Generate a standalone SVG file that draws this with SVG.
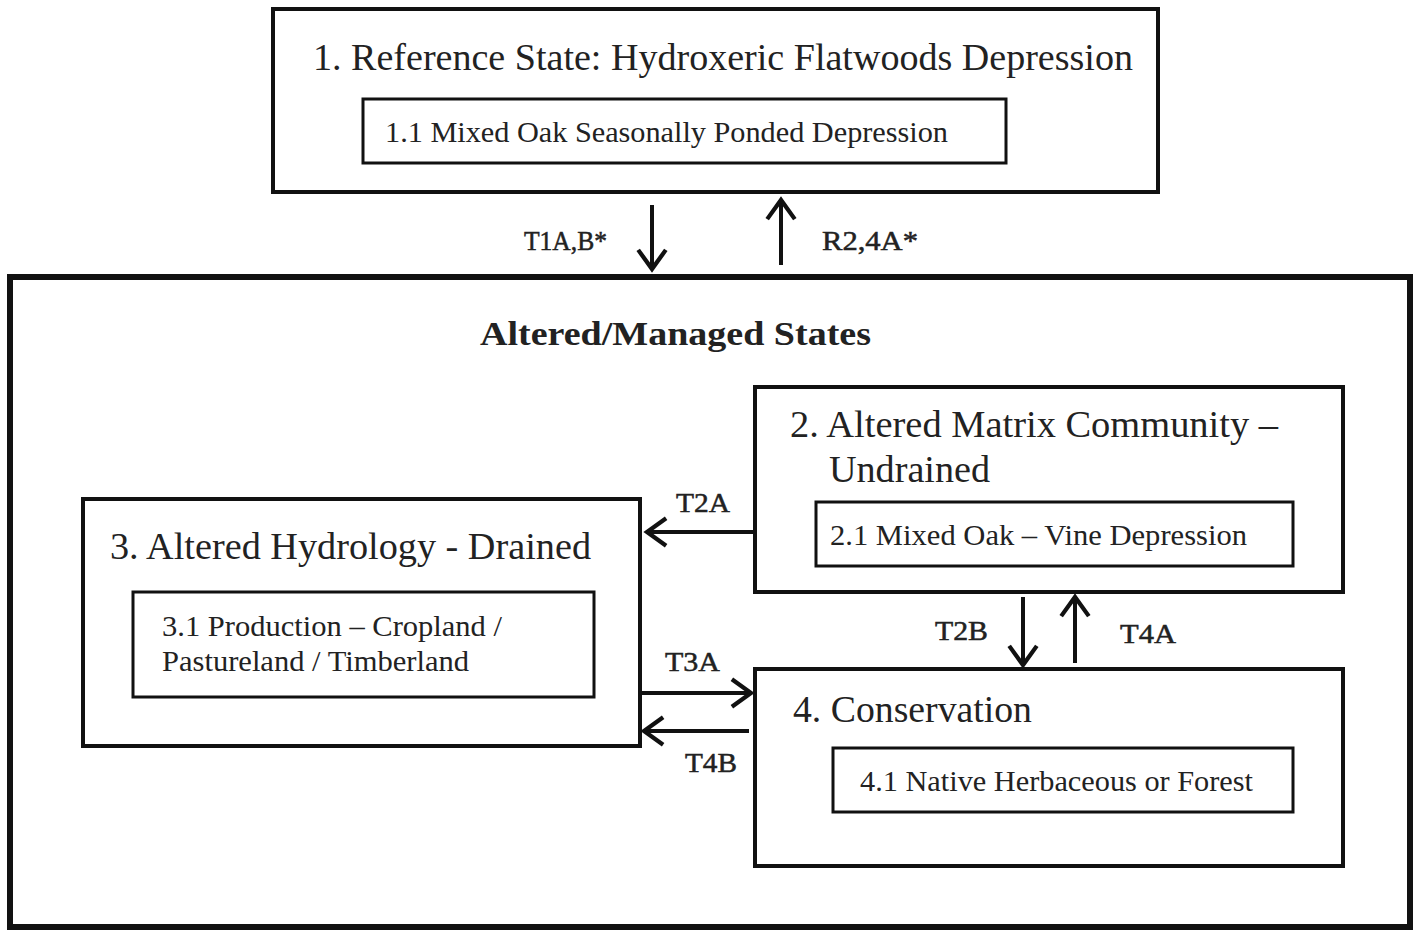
<svg xmlns="http://www.w3.org/2000/svg" width="1417" height="931" viewBox="0 0 1417 931">
<style>
.box{fill:none;stroke:#111;stroke-width:4}
.inner{fill:none;stroke:#111;stroke-width:3}
.outer{fill:none;stroke:#111;stroke-width:6}
text{font-family:"Liberation Serif","Times New Roman",serif;fill:#222}
.t1{font-size:37px}
.t2{font-size:30px}
.lbl{font-size:27px;stroke:#222;stroke-width:0.5}
.hdr{font-size:34px;font-weight:bold}
.conn{stroke:#111;stroke-width:4;fill:none}
</style>
<defs>
<marker id="ah" markerUnits="userSpaceOnUse" markerWidth="30" markerHeight="34" viewBox="-22 -16 26 32" refX="0" refY="0" orient="auto">
<path d="M-18,-13 L0,0 L-18,13" fill="none" stroke="#111" stroke-width="4"/>
</marker>
</defs>
<rect width="1417" height="931" fill="#fff"/>
<g id="n1">
<rect class="box" x="273" y="9" width="885" height="183"/>
<text class="t1" x="313" y="70" textLength="820" lengthAdjust="spacingAndGlyphs">1. Reference State: Hydroxeric Flatwoods Depression</text>
<rect class="inner" x="363" y="99" width="643" height="64"/>
<text class="t2" x="385" y="142" textLength="563" lengthAdjust="spacingAndGlyphs">1.1 Mixed Oak Seasonally Ponded Depression</text>
</g>
<g id="altered">
<rect class="outer" x="10" y="277" width="1400" height="650"/>
<text class="hdr" x="480" y="345" textLength="391" lengthAdjust="spacingAndGlyphs">Altered/Managed States</text>
</g>
<g id="n2">
<rect class="box" x="755" y="387" width="588" height="205"/>
<text class="t1" x="790" y="437" textLength="488" lengthAdjust="spacingAndGlyphs">2. Altered Matrix Community –</text>
<text class="t1" x="829" y="482" textLength="161" lengthAdjust="spacingAndGlyphs">Undrained</text>
<rect class="inner" x="816" y="502" width="477" height="64"/>
<text class="t2" x="830" y="545" textLength="417" lengthAdjust="spacingAndGlyphs">2.1 Mixed Oak – Vine Depression</text>
</g>
<g id="n3">
<rect class="box" x="83" y="499" width="557" height="247"/>
<text class="t1" x="110" y="559" textLength="481" lengthAdjust="spacingAndGlyphs">3. Altered Hydrology - Drained</text>
<rect class="inner" x="133" y="592" width="461" height="105"/>
<text class="t2" x="162" y="636" textLength="340" lengthAdjust="spacingAndGlyphs">3.1 Production – Cropland /</text>
<text class="t2" x="162" y="671" textLength="307" lengthAdjust="spacingAndGlyphs">Pastureland / Timberland</text>
</g>
<g id="n4">
<rect class="box" x="755" y="669" width="588" height="197"/>
<text class="t1" x="793" y="722" textLength="239" lengthAdjust="spacingAndGlyphs">4. Conservation</text>
<rect class="inner" x="833" y="748" width="460" height="64"/>
<text class="t2" x="860" y="791" textLength="393" lengthAdjust="spacingAndGlyphs">4.1 Native Herbaceous or Forest</text>
</g>
<g id="connectors">
<line class="conn" x1="652" y1="205" x2="652" y2="269" marker-end="url(#ah)"/>
<text class="lbl" x="524" y="250" textLength="83" lengthAdjust="spacingAndGlyphs">T1A,B*</text>
<line class="conn" x1="781" y1="265" x2="781" y2="200" marker-end="url(#ah)"/>
<text class="lbl" x="822" y="250" textLength="96" lengthAdjust="spacingAndGlyphs">R2,4A*</text>
<line class="conn" x1="755" y1="532" x2="647" y2="532" marker-end="url(#ah)"/>
<text class="lbl" x="676" y="512" textLength="54" lengthAdjust="spacingAndGlyphs">T2A</text>
<line class="conn" x1="642" y1="693" x2="751" y2="693" marker-end="url(#ah)"/>
<text class="lbl" x="665" y="671" textLength="55" lengthAdjust="spacingAndGlyphs">T3A</text>
<line class="conn" x1="749" y1="731" x2="644" y2="731" marker-end="url(#ah)"/>
<text class="lbl" x="685" y="772" textLength="52" lengthAdjust="spacingAndGlyphs">T4B</text>
<line class="conn" x1="1023" y1="597" x2="1023" y2="665" marker-end="url(#ah)"/>
<text class="lbl" x="935" y="640" textLength="53" lengthAdjust="spacingAndGlyphs">T2B</text>
<line class="conn" x1="1075" y1="663" x2="1075" y2="597" marker-end="url(#ah)"/>
<text class="lbl" x="1120" y="643" textLength="56" lengthAdjust="spacingAndGlyphs">T4A</text>
</g>
</svg>
